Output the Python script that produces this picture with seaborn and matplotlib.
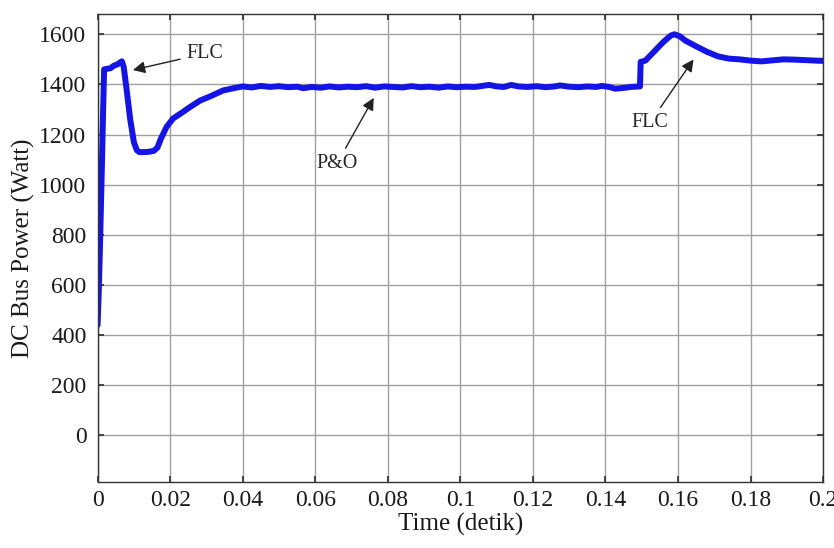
import numpy as np
import pandas as pd
import matplotlib
matplotlib.use("Agg")
import matplotlib.pyplot as plt
import seaborn as sns

# DC bus power trace
time_s = [0.0, 0.0003, 0.0006, 0.0009, 0.0012, 0.0015, 0.0018, 0.0025, 0.0036,
          0.0045, 0.0055, 0.0062, 0.0067, 0.0072, 0.0080, 0.0090, 0.0100, 0.0108,
          0.0115, 0.0125, 0.0140, 0.0155, 0.0165, 0.0175, 0.0190, 0.0208, 0.0230,
          0.0255, 0.0283, 0.0310, 0.0346, 0.0375, 0.0400, 0.0425, 0.0450, 0.0475,
          0.0500, 0.0525, 0.0550, 0.0567, 0.0590, 0.0615, 0.0640, 0.0665, 0.0690,
          0.0715, 0.0740, 0.0765, 0.0790, 0.0815, 0.0840, 0.0865, 0.0890, 0.0915,
          0.0940, 0.0965, 0.0990, 0.1015, 0.1040, 0.1060, 0.1080, 0.1100, 0.1120,
          0.1140, 0.1160, 0.1185, 0.1210, 0.1235, 0.1260, 0.1275, 0.1300, 0.1325,
          0.1350, 0.1375, 0.1390, 0.1410, 0.1427, 0.1450, 0.1470, 0.1495, 0.1497,
          0.1510, 0.1520, 0.1540, 0.1560, 0.1580, 0.1590, 0.1605, 0.1620, 0.1650,
          0.1680, 0.1710, 0.1740, 0.1770, 0.1800, 0.1830, 0.1860, 0.1890, 0.1920,
          0.1950, 0.1980, 0.2000]
power_w = [440, 560, 720, 900, 1080, 1280, 1460, 1462, 1465,
           1475, 1480, 1488, 1492, 1470, 1380, 1260, 1170, 1138,
           1130, 1130, 1131, 1135, 1148, 1185, 1230, 1264, 1285,
           1310, 1336, 1352, 1376, 1385, 1392, 1388, 1394, 1390,
           1393, 1389, 1391, 1385, 1390, 1387, 1392, 1388, 1391,
           1389, 1393, 1387, 1392, 1390, 1388, 1393, 1389, 1391,
           1387, 1392, 1389, 1391, 1390, 1394, 1398, 1392, 1390,
           1398, 1392, 1390, 1393, 1389, 1392, 1396, 1391, 1389,
           1392, 1390, 1394, 1390, 1383, 1386, 1390, 1392, 1490,
           1495, 1510, 1540, 1570, 1595, 1600, 1592, 1575, 1552,
           1530, 1512, 1503, 1500, 1495, 1492, 1496, 1500, 1499,
           1497, 1495, 1494]

df = pd.DataFrame({"Time": time_s, "Power": power_w})

sns.set_theme(style="ticks")
plt.rcParams["font.family"] = ["Liberation Serif", "DejaVu Serif"]

fig = plt.figure(figsize=(8.34, 5.48), dpi=100)
ax = fig.add_axes([0.117, 0.121, 0.870, 0.853])

sns.lineplot(data=df, x="Time", y="Power", ax=ax, color="#1414e6",
             linewidth=4.3, estimator=None, sort=False)

ax.set_xlim(0, 0.2)
ax.set_ylim(-185, 1680)
ax.set_xticks(np.arange(0, 0.2001, 0.02))
ax.set_xticklabels(["0", "0.02", "0.04", "0.06", "0.08", "0.1", "0.12",
                    "0.14", "0.16", "0.18", "0.2"])
ax.set_yticks(np.arange(0, 1601, 200))
ax.grid(True, color="#a0a0a0", linewidth=1.0)
ax.set_axisbelow(True)
ax.tick_params(direction="in", length=4, labelsize=17, top=True, right=True,
               color="#333333", labelcolor="#1a1a1a", pad=8)
ax.tick_params(axis="x", pad=6)
for s in ax.spines.values():
    s.set_color("#333333")
    s.set_linewidth(1.0)

ax.set_xlabel("Time (detik)", fontsize=18, labelpad=1, color="#1a1a1a")
ax.set_ylabel("DC Bus Power (Watt)", fontsize=18, labelpad=3, color="#1a1a1a")

arrow = dict(arrowstyle="-|>", color="#222222", lw=1.0, mutation_scale=18)
ax.annotate("FLC", xy=(0.009, 1455), xytext=(0.0295, 1523), fontsize=14.5,
            ha="center", va="center", arrowprops=arrow)
ax.annotate("P&O", xy=(0.0765, 1356), xytext=(0.066, 1085), fontsize=14.5,
            ha="center", va="center", arrowprops=arrow)
ax.annotate("FLC", xy=(0.1647, 1509), xytext=(0.1523, 1248), fontsize=14.5,
            ha="center", va="center", arrowprops=arrow)

fig.savefig("out.png", dpi=100)
